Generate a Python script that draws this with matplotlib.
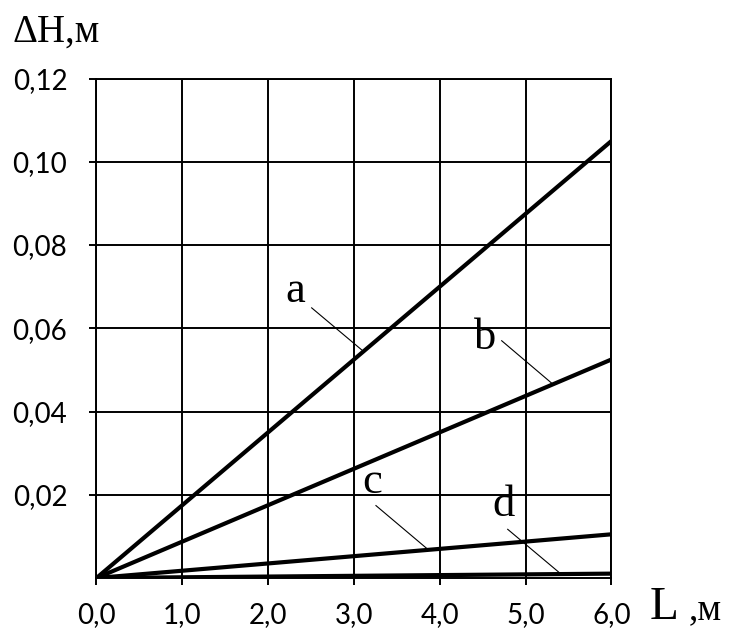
import matplotlib
matplotlib.use('Agg')
from matplotlib import pyplot as plt
import numpy as np

# длина L, м (концы прямых)
L = [0.0, 6.0]
# потери напора ΔH, м для кривых a, b, c, d
dH_a = [0.0, 0.105]
dH_b = [0.0, 0.0525]
dH_c = [0.0, 0.0105]
dH_d = [0.0, 0.00105]

x_ticks = [0, 1, 2, 3, 4, 5, 6]
x_labels = ['0,0', '1,0', '2,0', '3,0', '4,0', '5,0', '6,0']
y_ticks = [0.02, 0.04, 0.06, 0.08, 0.10, 0.12]
y_labels = ['0,02', '0,04', '0,06', '0,08', '0,10', '0,12']

fig = plt.figure(figsize=(7.36, 6.28), dpi=100)
ax = fig.add_axes([0.1311, 0.0796, 0.6997, 0.7954])

# сетка
ax.grid(True, color='black', linewidth=1.4)
ax.set_axisbelow(True)
for s in ax.spines.values():
    s.set_linewidth(1.4)

# основные прямые
for y in (dH_a, dH_b, dH_c, dH_d):
    ax.plot(L, y, color='black', linewidth=3.0, solid_capstyle='butt', zorder=3)

# подписи кривых с выносками
serif = 'Liberation Serif'
labels = [('a', 2.313, 0.0664, (2.507, 3.09), (0.0649, 0.0548)),
          ('b', 4.526, 0.0550, (4.721, 5.304), (0.0570, 0.0468)),
          ('c', 3.216, 0.0204, (3.256, 3.854), (0.0174, 0.0070)),
          ('d', 4.737, 0.0150, (4.791, 5.392), (0.0117, 0.0013))]
for txt, tx, ty, lx, ly in labels:
    ax.text(tx, ty, txt, family=serif, fontsize=32, ha='center', va='baseline', zorder=4)
    ax.plot(lx, ly, color='black', linewidth=0.8, zorder=4)

ax.set_xlim(0, 6)
ax.set_ylim(0, 0.12)
ax.set_xticks(x_ticks)
ax.set_xticklabels(x_labels)
ax.set_yticks(y_ticks)
ax.set_yticklabels(y_labels)
ax.tick_params(direction='out', length=5, width=1.4, labelsize=20, colors='black')
ax.tick_params(axis='x', pad=12)
ax.tick_params(axis='y', pad=16)
for t in ax.get_xticklabels() + ax.get_yticklabels():
    t.set_family('Lato')

# подписи осей
fig.text(12 / 736, 1 - 41.7 / 628, 'ΔH,м', family=serif, fontsize=28, ha='left', va='baseline')
fig.text(650 / 736, 1 - 619 / 628, 'L', family=serif, fontsize=34, ha='left', va='baseline')
fig.text(689 / 736, 1 - 619 / 628, ',м', family=serif, fontsize=27, ha='left', va='baseline')

fig.savefig('out.png', dpi=100)
